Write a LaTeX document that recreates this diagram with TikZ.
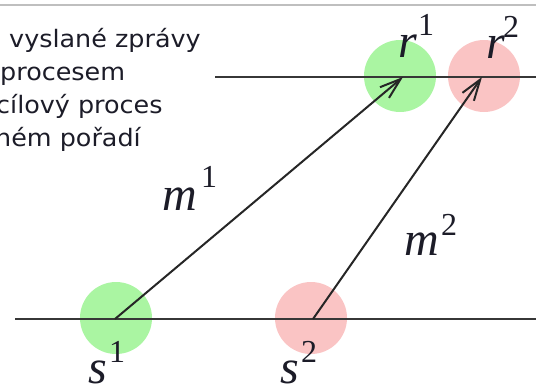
\documentclass[tikz,border=0pt]{standalone}
\usepackage{fontspec}
\usetikzlibrary{arrows.meta}
\setmainfont{Liberation Serif}
\newfontfamily\txtfont[FakeStretch=1.06]{DejaVu Sans}
\definecolor{gfill}{RGB}{170,245,162}
\definecolor{pfill}{RGB}{250,196,196}
\definecolor{inkc}{RGB}{28,28,40}
\definecolor{linec}{RGB}{55,55,55}
\tikzset{
  txt/.style={inner sep=0pt, anchor=base west, font=\txtfont\fontsize{24}{24}\selectfont, text=inkc},
  letr/.style={inner sep=0pt, anchor=base west, font=\fontsize{48}{48}\selectfont\itshape, text=inkc},
  digt/.style={inner sep=0pt, anchor=base west, font=\fontsize{32}{32}\selectfont, text=inkc},
  gdot/.style={circle, fill=gfill, inner sep=0pt, minimum size=72pt},
  pdot/.style={circle, fill=pfill, inner sep=0pt, minimum size=72pt},
  proc/.style={draw=linec, line width=2.3pt},
  msg/.style={draw=black!85, line width=2pt, -{Straight Barb[length=21pt,width=14pt,line width=2pt]}},
}
\begin{document}
\begin{tikzpicture}[x=1pt,y=-1pt]
\useasboundingbox (0,0) rectangle (536,391);
\clip (0,0) rectangle (536,391);
% top border
\coordinate (tl) at (0,5);
\coordinate (tr) at (536,5);
\draw[draw=black!25, line width=1.2pt] (tl) -- (tr);
% circles
\node[gdot] (cr1) at (400,76) {};
\node[pdot] (cr2) at (484,76) {};
\node[gdot] (cs1) at (116,318) {};
\node[pdot] (cs2) at (311,318) {};
% process lines
\coordinate (ul) at (215,77);
\coordinate (ur) at (536,77);
\coordinate (ll) at (15,319);
\coordinate (lr) at (536,319);
\draw[proc] (ul) -- (ur);
\draw[proc] (ll) -- (lr);
% message endpoints
\coordinate (s1) at (115,319);
\coordinate (r1) at (403,77);
\coordinate (s2) at (313,319);
\coordinate (r2) at (482,77);
\draw[msg] (s1) -- (r1);
\draw[msg] (s2) -- (r2);
% text
\node[txt] (t1) at (9,47) {vyslané zprávy};
\node[txt] (t2) at (0,80) {procesem};
\node[txt] (t3) at (-4,113) {cílový proces};
\node[txt] (t4) at (-5,146) {ném pořadí};
% labels
\node[letr] (lr1) at (398,57) {r};
\node[digt] (dr1) at (418,35) {1};
\node[letr] (lr2) at (486,58) {r};
\node[digt] (dr2) at (503,37) {2};
\node[letr] (ls1) at (88,383) {s};
\node[digt] (ds1) at (109,362) {1};
\node[letr] (ls2) at (280,383) {s};
\node[digt] (ds2) at (301,362) {2};
\node[letr] (lm1) at (162,210) {m};
\node[digt] (dm1) at (201,187) {1};
\node[letr] (lm2) at (404,255) {m};
\node[digt] (dm2) at (441,235) {2};
\end{tikzpicture}
\end{document}
